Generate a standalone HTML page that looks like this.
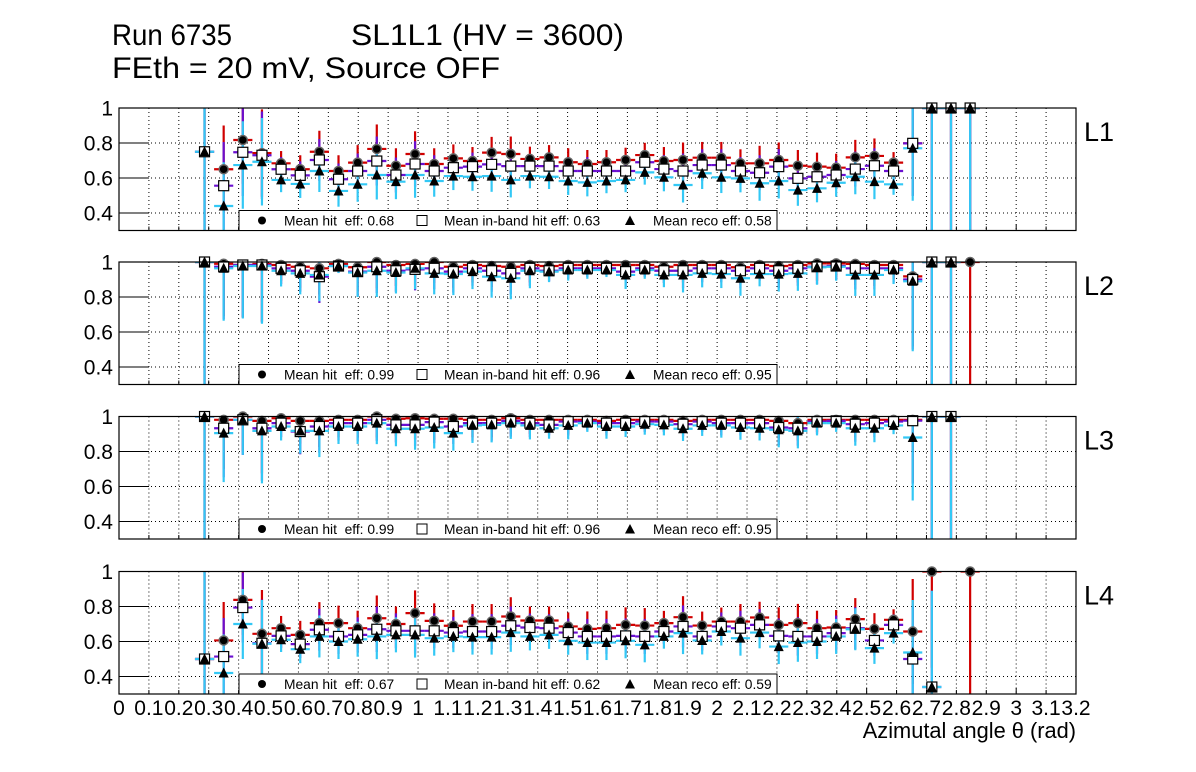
<!DOCTYPE html>
<html><head><meta charset="utf-8">
<style>
html,body{margin:0;padding:0;background:#fff;}
svg{display:block;font-family:"Liberation Sans",sans-serif;}
text{white-space:pre;}
</style></head>
<body>
<svg id="chart" width="1196" height="772" viewBox="0 0 1196 772" xmlns="http://www.w3.org/2000/svg">
<text x="112" y="45" font-size="30" textLength="120" lengthAdjust="spacingAndGlyphs">Run 6735</text>
<text x="351" y="45" font-size="30" textLength="273" lengthAdjust="spacingAndGlyphs">SL1L1 (HV = 3600)</text>
<text x="112" y="78" font-size="30" textLength="388" lengthAdjust="spacingAndGlyphs">FEth = 20 mV, Source OFF</text>
<text x="1076" y="738" font-size="21.8" text-anchor="end">Azimutal angle θ (rad)</text>
<g id="panels"></g>
</svg>
<script>
const binStart = 0.286;
const binWidth = 0.064;
const nBins = 41;
const xTickLabels = ["0","0.1","0.2","0.3","0.4","0.5","0.6","0.7","0.8","0.9","1","1.1","1.2","1.3","1.4","1.5","1.6","1.7","1.8","1.9","2","2.1","2.2","2.3","2.4","2.5","2.6","2.7","2.8","2.9","3","3.1","3.2"];
const xTickValues = [0,0.1,0.2,0.3,0.4,0.5,0.6,0.7,0.8,0.9,1,1.1,1.2,1.3,1.4,1.5,1.6,1.7,1.8,1.9,2,2.1,2.2,2.3,2.4,2.5,2.6,2.7,2.8,2.9,3,3.1,3.2];
const yTickValues = [0.4,0.6,0.8,1];
const yTickLabels = ["0.4","0.6","0.8","1"];
const layerNames = ["L1","L2","L3","L4"];
const meanHit = ["0.68","0.99","0.99","0.67"];
const meanInBand = ["0.63","0.96","0.96","0.62"];
const meanReco = ["0.58","0.95","0.95","0.59"];

const hitL1 = [0.75,0.65,0.817,0.742,0.684,0.65,0.75,0.64,0.688,0.766,0.67,0.737,0.68,0.712,0.697,0.745,0.737,0.709,0.718,0.69,0.68,0.69,0.703,0.731,0.697,0.703,0.716,0.716,0.684,0.684,0.703,0.67,0.665,0.659,0.718,0.726,0.688,0.798,1,1,1];
const inL1 = [0.75,0.556,0.747,0.73,0.65,0.615,0.703,0.593,0.64,0.697,0.617,0.68,0.64,0.659,0.665,0.678,0.668,0.668,0.668,0.64,0.64,0.64,0.64,0.69,0.651,0.64,0.674,0.674,0.64,0.63,0.665,0.598,0.607,0.617,0.651,0.67,0.64,0.798,1,1,1];
const recoL1 = [0.75,0.44,0.674,0.693,0.589,0.566,0.64,0.526,0.564,0.617,0.579,0.617,0.583,0.611,0.607,0.611,0.589,0.611,0.607,0.583,0.575,0.583,0.589,0.632,0.604,0.56,0.627,0.604,0.598,0.57,0.583,0.531,0.541,0.573,0.607,0.579,0.564,0.77,1,1,1];
const errL1 = [1,0.25,0.25,0.25,0.07,0.08,0.12,0.09,0.1,0.14,0.1,0.13,0.09,0.08,0.08,0.09,0.1,0.07,0.07,0.08,0.08,0.07,0.07,0.07,0.08,0.1,0.09,0.09,0.08,0.1,0.1,0.09,0.08,0.08,0.1,0.1,0.06,0.3,1,1,1];

const hitL2 = [1,0.99,0.983,0.989,0.983,0.973,0.964,0.989,0.97,1,0.983,0.989,1,0.973,0.983,0.977,0.973,0.983,0.977,0.983,0.983,0.983,0.983,0.983,0.973,0.983,0.983,0.983,0.97,0.983,0.977,0.983,0.992,0.992,0.989,0.983,0.983,0.918,1,1,1];
const inL2 = [1,0.973,0.983,0.983,0.964,0.95,0.916,0.977,0.945,0.973,0.95,0.958,0.964,0.945,0.964,0.95,0.935,0.964,0.95,0.964,0.964,0.964,0.945,0.964,0.95,0.95,0.964,0.964,0.95,0.964,0.95,0.964,0.973,0.977,0.964,0.964,0.964,0.9,1,1,null];
const recoL2 = [1,0.964,0.977,0.977,0.95,0.935,0.926,0.977,0.94,0.95,0.94,0.964,0.935,0.931,0.945,0.916,0.907,0.95,0.945,0.954,0.954,0.954,0.926,0.954,0.926,0.926,0.935,0.931,0.907,0.931,0.931,0.935,0.97,0.973,0.926,0.926,0.954,0.89,1,1,null];
const errL2 = [1,0.3,0.3,0.33,0.09,0.12,0.15,0.04,0.14,0.15,0.12,0.12,0.12,0.12,0.1,0.12,0.12,0.1,0.06,0.06,0.05,0.04,0.08,0.05,0.07,0.1,0.08,0.08,0.1,0.07,0.1,0.1,0.1,0.08,0.12,0.12,0.08,0.4,1,1,0.7];

const hitL3 = [1,0.981,1,0.975,0.99,0.975,0.975,0.981,0.981,1,0.987,0.99,0.987,0.987,0.981,0.981,0.99,0.981,0.981,0.981,0.981,0.975,0.981,0.981,0.981,0.975,0.981,0.981,0.981,0.981,0.975,0.962,0.981,0.981,0.981,0.981,0.981,0.981,1,1,null];
const inL3 = [1,0.933,0.981,0.933,0.962,0.914,0.943,0.962,0.962,0.981,0.952,0.952,0.968,0.943,0.962,0.962,0.975,0.962,0.952,0.971,0.971,0.962,0.962,0.971,0.971,0.956,0.971,0.962,0.962,0.962,0.937,0.933,0.971,0.975,0.956,0.962,0.971,0.976,1,1,null];
const recoL3 = [1,0.905,0.981,0.918,0.943,0.918,0.918,0.943,0.943,0.962,0.93,0.93,0.937,0.905,0.949,0.952,0.962,0.949,0.933,0.949,0.962,0.943,0.943,0.956,0.952,0.93,0.949,0.949,0.937,0.933,0.924,0.918,0.962,0.962,0.933,0.933,0.949,0.88,1,1,null];
const errL3 = [1,0.28,0.2,0.3,0.08,0.13,0.15,0.1,0.1,0.12,0.1,0.12,0.12,0.1,0.1,0.1,0.09,0.08,0.06,0.08,0.05,0.07,0.06,0.06,0.06,0.07,0.06,0.07,0.07,0.07,0.1,0.1,0.07,0.05,0.1,0.08,0.05,0.36,1,1,0];

const hitL4 = [0.5,0.606,0.838,0.644,0.676,0.638,0.705,0.705,0.676,0.733,0.7,0.762,0.718,0.69,0.714,0.714,0.743,0.72,0.72,0.686,0.672,0.676,0.695,0.691,0.705,0.739,0.691,0.714,0.714,0.737,0.695,0.705,0.676,0.68,0.728,0.672,0.724,0.657,1,null,1];
const inL4 = [0.5,0.514,0.794,0.59,0.632,0.585,0.667,0.629,0.638,0.67,0.661,0.661,0.661,0.651,0.657,0.657,0.69,0.68,0.676,0.651,0.629,0.629,0.632,0.629,0.657,0.686,0.629,0.686,0.676,0.695,0.632,0.629,0.629,0.648,0.676,0.606,0.695,0.5,0.34,null,null];
const recoL4 = [0.5,0.42,0.7,0.587,0.61,0.556,0.629,0.6,0.613,0.629,0.638,0.638,0.619,0.629,0.625,0.625,0.651,0.629,0.638,0.604,0.594,0.594,0.604,0.581,0.629,0.648,0.606,0.657,0.619,0.651,0.571,0.594,0.6,0.629,0.67,0.562,0.648,0.537,0.34,null,null];
const errL4 = [1,0.22,0.2,0.25,0.07,0.08,0.12,0.1,0.1,0.13,0.1,0.13,0.1,0.09,0.1,0.1,0.11,0.08,0.08,0.08,0.1,0.1,0.1,0.1,0.07,0.12,0.08,0.08,0.1,0.09,0.1,0.11,0.1,0.1,0.12,0.09,0.06,0.3,0.55,0,0.7];

const panelData = [
  {hit:hitL1, inb:inL1, reco:recoL1, err:errL1},
  {hit:hitL2, inb:inL2, reco:recoL2, err:errL2},
  {hit:hitL3, inb:inL3, reco:recoL3, err:errL3},
  {hit:hitL4, inb:inL4, reco:recoL4, err:errL4}
];

const NS = "http://www.w3.org/2000/svg";
const X0 = 119, X1 = 1076, XMAX = 3.2;
const tops = [108, 262, 416.5, 571.5];
const PH = 122.5, YMIN = 0.3, YMAX = 1.0;
function xs(v){ return X0 + v*(X1-X0)/XMAX; }
function ys(p, v){ return tops[p] + (YMAX - v)*PH/(YMAX-YMIN); }
function mk(tag, attrs, parent){
  const e = document.createElementNS(NS, tag);
  for (const k in attrs) e.setAttribute(k, attrs[k]);
  parent.appendChild(e);
  return e;
}
const root = document.getElementById('panels');
const svg = document.getElementById('chart');
const defs = mk('defs', {}, svg);

for (let p = 0; p < 4; p++) {
  const top = tops[p], bot = top + PH;
  const cp = mk('clipPath', {id:'clip'+p}, defs);
  mk('rect', {x:X0, y:top, width:X1-X0, height:PH}, cp);
  const g = mk('g', {}, root);
  
  
  for (let i = 1; i < xTickValues.length - 1; i++) {
    const x = xs(xTickValues[i]);
    const l = mk('line', {x1:x, x2:x, y1:top, y2:bot, stroke:'#000', 'stroke-width':1, 'stroke-dasharray':'1,3'}, g);
    
    
    const t = mk('line', {x1:x, x2:x, y1:bot, y2:bot-(i%5===0?6:4), stroke:'#000', 'stroke-width':1}, g);
    
    
  }
  for (let i = 0; i < yTickValues.length; i++) {
    const y = ys(p, yTickValues[i]);
    if (yTickValues[i] < 1) {
      const l = mk('line', {x1:X0, x2:X1, y1:y, y2:y, stroke:'#000', 'stroke-width':1, 'stroke-dasharray':'1,3'}, g);
      
      
      const t = mk('line', {x1:X0, x2:X0+30, y1:y, y2:y, stroke:'#000', 'stroke-width':1}, g);
      
      
    }
    const tl = mk('text', {x:113, y:y+7.5, 'font-size':21, 'text-anchor':'end'}, g);
    tl.textContent = yTickLabels[i];
    
    
  }
  const dg = mk('g', {'clip-path':'url(#clip'+p+')'}, g);
  const d = panelData[p];
  const series = [
    {vals:d.hit, color:'#d00000', name:'hit'},
    {vals:d.inb, color:'#6a0fd0', name:'inband'},
    {vals:d.reco, color:'#33c8f5', name:'reco'}
  ];
  const half = (xs(binWidth)-xs(0))/2;
  for (const s of series) {
    for (let i = 0; i < nBins; i++) {
      const v = s.vals[i];
      if (v === null || v === undefined) continue;
      const cx = xs(binStart + binWidth*i);
      const e = d.err[i];
      const hb = mk('line', {x1:cx-half, x2:cx+half, y1:ys(p,v), y2:ys(p,v), stroke:s.color, 'stroke-width':2.2}, dg);
      
      
      const vb = mk('line', {x1:cx, x2:cx, y1:ys(p,Math.min(v+e,1.2)), y2:ys(p,Math.max(v-e,0.2)), stroke:s.color, 'stroke-width':2.2}, dg);
      
      
    }
  }
  for (const s of series) {
    for (let i = 0; i < nBins; i++) {
      const v = s.vals[i];
      if (v === null || v === undefined) continue;
      const cx = xs(binStart + binWidth*i), cy = ys(p, v);
      let m;
      if (s.name === 'hit') {
        m = mk('circle', {cx:cx, cy:cy, r:4.5, fill:'#000', stroke:'#666', 'stroke-width':1.5}, g);
      } else if (s.name === 'inband') {
        m = mk('rect', {x:cx-5, y:cy-5, width:10, height:10, fill:'#fff', stroke:'#000', 'stroke-width':1.2}, g);
      } else {
        m = mk('polygon', {points:(cx-5)+','+(cy+4.5)+' '+(cx+5)+','+(cy+4.5)+' '+cx+','+(cy-5.5), fill:'#000'}, g);
      }
      
      
    }
  }
  const fr = mk('rect', {x:X0, y:top, width:X1-X0, height:PH, fill:'none', stroke:'#000', 'stroke-width':1.2}, g);
  
  
  const ll = mk('text', {x:1084, y:top+33, 'font-size':27}, g);
  ll.textContent = layerNames[p];
  
  
  const lg = mk('g', {}, g);
  
  
  mk('rect', {x:239, y:bot-20, width:538, height:20, fill:'#fff', stroke:'#000', 'stroke-width':1}, lg);
  const ly = bot - 10;
  mk('circle', {cx:262, cy:ly, r:4, fill:'#000'}, lg);
  mk('rect', {x:417, y:ly-5, width:10, height:10, fill:'#fff', stroke:'#000', 'stroke-width':1}, lg);
  mk('polygon', {points:'625,'+(ly+4.5)+' 635,'+(ly+4.5)+' 630,'+(ly-5), fill:'#000'}, lg);
  const t1 = mk('text', {x:284, y:ly+5, 'font-size':13.8}, lg);
  t1.textContent = 'Mean hit  eff: ' + meanHit[p];
  
  
  const t2 = mk('text', {x:444, y:ly+5, 'font-size':13.8}, lg);
  t2.textContent = 'Mean in-band hit eff: ' + meanInBand[p];
  
  
  const t3 = mk('text', {x:653, y:ly+5, 'font-size':13.8}, lg);
  t3.textContent = 'Mean reco eff: ' + meanReco[p];
  
  
}
for (let i = 0; i < xTickValues.length; i++) {
  const t = mk('text', {x:xs(xTickValues[i]), y:715, 'font-size':21, 'text-anchor':'middle'}, root);
  t.textContent = xTickLabels[i];
  
  
}
</script>
</body></html>
